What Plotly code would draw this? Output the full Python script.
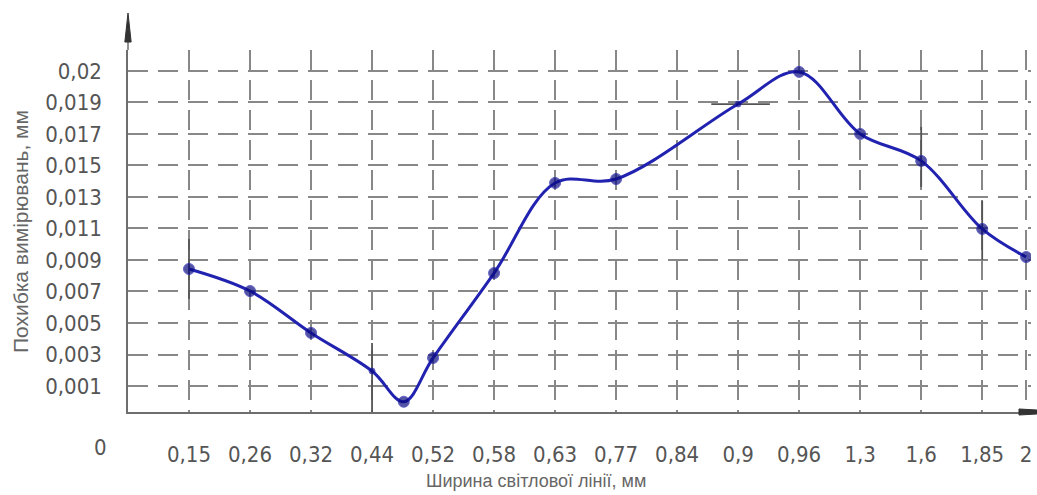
import plotly.graph_objects as go

# --- data ---
x_tick_labels = ["0,15", "0,26", "0,32", "0,44", "0,52", "0,58", "0,63", "0,77",
                 "0,84", "0,9", "0,96", "1,3", "1,6", "1,85", "2"]
x_tick_pos = [1, 2, 3, 4, 5, 6, 7, 8, 9, 10, 11, 12, 13, 14, 14.72]

y_tick_labels = ["0,001", "0,003", "0,005", "0,007", "0,009", "0,011", "0,013",
                 "0,015", "0,017", "0,019", "0,02"]
y_tick_vals = [0.001, 0.003, 0.005, 0.007, 0.009, 0.011, 0.013, 0.015, 0.017, 0.019, 0.021]

point_x = [1, 2, 3, 4, 4.52, 5, 6, 7, 8, 10, 11, 12, 13, 14, 14.72]
point_y = [0.00843, 0.00703, 0.00437, 0.00195, 0.0000, 0.00278, 0.00817, 0.01389,
           0.01414, 0.0189, 0.02094, 0.0170, 0.01529, 0.01097, 0.00919]
marker_sizes = [11, 11, 11, 6, 11, 11, 11, 11, 11, 6, 11, 11, 11, 11, 11]

# crosshair strokes (drawn as error bars)
err_up = [0.0019, 0, 0, 0.00178, 0, 0, 0, 0, 0, 0, 0, 0, 0.00216, 0.00178, 0]
err_down = [0.0019, 0, 0, 0.0026, 0, 0, 0, 0, 0, 0, 0, 0, 0.00165, 0.00197, 0]
err_left = [0, 0, 0, 0, 0, 0, 0, 0, 0, 0.44, 0, 0, 0, 0, 0]
err_right = [0, 0, 0, 0, 0, 0, 0, 0, 0, 0.52, 0, 0, 0, 0, 0]

GRAY = "#6e6e6e"
TICKFONT = dict(family="DejaVu Sans Condensed, DejaVu Sans, sans-serif",
                size=22, color="#555555")

fig = go.Figure()

fig.add_trace(go.Scatter(
    x=point_x, y=point_y, mode="markers",
    marker=dict(size=1, opacity=0),
    error_y=dict(type="data", symmetric=False, array=err_up, arrayminus=err_down,
                 color="#555555", thickness=1.8, width=0),
    error_x=dict(type="data", symmetric=False, array=err_right, arrayminus=err_left,
                 color="#555555", thickness=1.8, width=0),
    showlegend=False, hoverinfo="skip"))

fig.add_trace(go.Scatter(
    x=point_x, y=point_y, mode="lines+markers",
    line=dict(color="#2222b0", width=3, shape="spline", smoothing=1),
    marker=dict(size=marker_sizes, color="#0c0c80"),
    showlegend=False))

fig.update_layout(
    width=1037, height=495,
    margin=dict(l=128, r=6, t=50, b=83, autoexpand=False),
    paper_bgcolor="white", plot_bgcolor="white",
    xaxis=dict(range=[0, 14.8], tickmode="array", tickvals=x_tick_pos,
               ticktext=x_tick_labels, tickfont=TICKFONT, ticks="",
               ticklabelstandoff=22, automargin=False,
               showgrid=True, gridcolor="#888888", gridwidth=1.5, griddash="20px,10px",
               showline=True, linecolor=GRAY, linewidth=1.5, zeroline=False),
    yaxis=dict(range=[-0.00065, 0.02233], tickmode="array", tickvals=y_tick_vals,
               ticktext=y_tick_labels, tickfont=TICKFONT, ticks="",
               ticklabelstandoff=20, automargin=False,
               showgrid=True, gridcolor="#888888", gridwidth=1.5, griddash="20px,10px",
               showline=True, linecolor=GRAY, linewidth=1.5, zeroline=False),
    shapes=[
        # y-axis extension and arrow
        dict(type="line", xref="paper", yref="paper", x0=0, x1=0, y0=1, y1=1.03,
             line=dict(color=GRAY, width=1.5)),
        dict(type="path", xref="paper", yref="paper",
             path="M -0.0035 1.022 L 0 1.102 L 0.0035 1.022 Z",
             fillcolor="#333333", line=dict(color="#333333", width=1)),
        # x-axis extension and arrow
        dict(type="line", xref="paper", yref="paper", x0=1, x1=1.0066, y0=0, y1=0,
             line=dict(color=GRAY, width=1.5)),
        dict(type="path", xref="paper", yref="paper",
             path="M 0.9867 0.0083 L 1.0066 0.0055 L 1.0066 -0.0055 L 0.9867 -0.0083 Z",
             fillcolor="#333333", line=dict(color="#333333", width=1)),
    ],
    annotations=[
        dict(text="0", xref="paper", yref="paper", x=-0.031, y=-0.097,
             showarrow=False, xanchor="center", yanchor="middle", font=TICKFONT),
        dict(text="Ширина світлової лінії, мм", xref="paper", yref="paper",
             x=0.452, y=-0.19, showarrow=False, xanchor="center", yanchor="middle",
             font=dict(family="Liberation Sans, sans-serif", size=18, color="#666666")),
        dict(text="Похибка вимірювань, мм", xref="paper", yref="paper",
             x=-0.1196, y=0.497, textangle=-90, showarrow=False,
             xanchor="center", yanchor="middle",
             font=dict(family="Liberation Sans, sans-serif", size=21, color="#666666")),
    ],
)

fig.write_html("out.html", config={"displayModeBar": False},
               post_script="document.body.style.margin='0';document.body.style.overflow='hidden';")
